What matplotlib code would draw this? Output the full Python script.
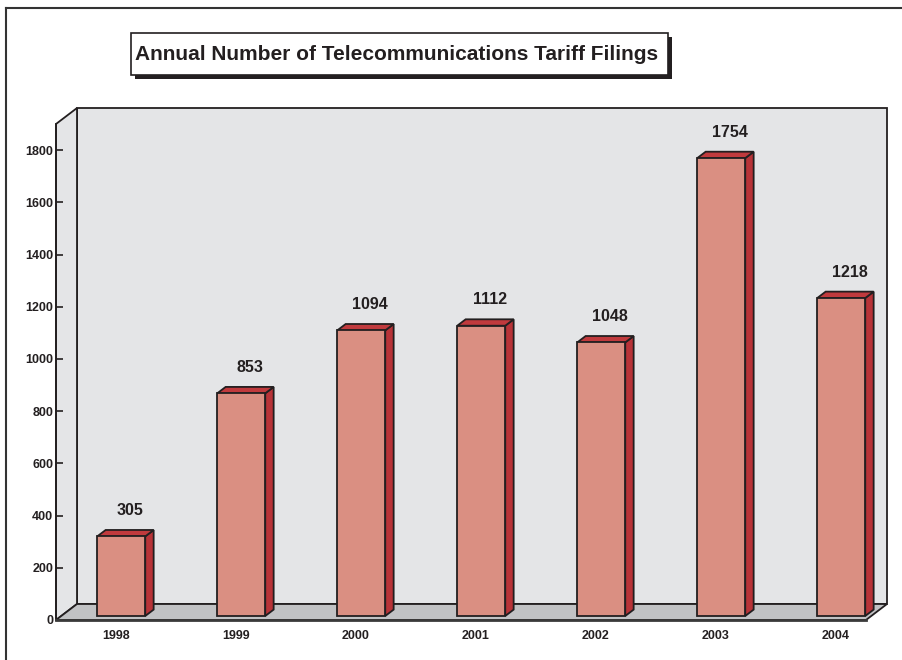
import matplotlib
matplotlib.use("Agg")
import matplotlib.pyplot as plt
from matplotlib.patches import Polygon, Rectangle
from matplotlib.lines import Line2D

# tariff filings per year
years = ['1998', '1999', '2000', '2001', '2002', '2003', '2004']
filings = [305, 853, 1094, 1112, 1048, 1754, 1218]
yticks = [0, 200, 400, 600, 800, 1000, 1200, 1400, 1600, 1800]

plt.rcParams['font.family'] = ['Liberation Sans', 'DejaVu Sans']
plt.rcParams['font.stretch'] = 'normal'

# oblique depth offset (data units for a full unit of depth)
DX = 0.175
DY = 61.3
XMIN, XMAX, YMAX = -0.5, 6.25, 1900

WALL = '#e4e5e7'
FLOOR = '#c1c2c4'
EDGE = '#231f20'
FRONT = '#da8f82'
SIDE = '#b83338'
TOP = '#c03a3d'


def P(x, y, d):
    return (x + DX * d, y + DY * d)


def face(ax, pts, color, z, lw=1.3):
    ax.add_patch(Polygon(pts, closed=True, facecolor=color, edgecolor=EDGE,
                         linewidth=lw, joinstyle='miter', zorder=z, clip_on=False))


fig = plt.figure(figsize=(9.02, 6.6), dpi=100)
fig.patch.set_facecolor('white')
ax = fig.add_axes([56 / 902, 40 / 660, 810 / 902, 496 / 660])
ax.set_xlim(XMIN, XMAX)
ax.set_ylim(0, YMAX)
ax.patch.set_visible(False)

# back wall, left wall, floor
face(ax, [P(XMIN, 0, 1), P(XMAX, 0, 1), P(XMAX, YMAX, 1), P(XMIN, YMAX, 1)], WALL, 1)
face(ax, [P(XMIN, 0, 0), P(XMIN, 0, 1), P(XMIN, YMAX, 1), P(XMIN, YMAX, 0)], WALL, 1)
face(ax, [P(XMIN, 0, 0), P(XMAX, 0, 0), P(XMAX, 0, 1), P(XMIN, 0, 1)], FLOOR, 2)

# bars
w = 0.4
d0, d1 = 0.25, 0.65
for i, v in enumerate(filings):
    xl, xr = i - w / 2, i + w / 2
    face(ax, [P(xr, 0, d0), P(xr, 0, d1), P(xr, v, d1), P(xr, v, d0)], SIDE, 3)
    face(ax, [P(xl, v, d0), P(xr, v, d0), P(xr, v, d1), P(xl, v, d1)], TOP, 3)
    face(ax, [P(xl, 0, d0), P(xr, 0, d0), P(xr, v, d0), P(xl, v, d0)], FRONT, 4)
    ax.annotate(str(v), xy=P(i, v, d1), xytext=(0, 14), textcoords='offset points',
                ha='center', va='center', fontsize=11.5, fontweight='bold',
                fontstretch='normal', color='#231f20', zorder=6)

# front edges of the box are the axes spines
for s in ['top', 'right']:
    ax.spines[s].set_visible(False)
ax.spines['left'].set_linewidth(1.3)
ax.spines['left'].set_color(EDGE)
ax.spines['bottom'].set_linewidth(2)
ax.spines['bottom'].set_color('#3a3a3a')
for s in ax.spines.values():
    s.set_zorder(5)

ax.set_yticks(yticks)
ax.set_yticklabels([str(t) for t in yticks])
ax.tick_params(axis='y', direction='in', length=5, width=1.2, pad=2,
               labelsize=9, colors=EDGE)
ax.set_xticks(range(len(years)))
ax.set_xticklabels(years)
ax.tick_params(axis='x', length=0, pad=7, labelsize=9, colors=EDGE)
for lab in ax.get_xticklabels() + ax.get_yticklabels():
    lab.set_fontweight('bold')
    lab.set_fontstretch('normal')

# outer frame
fig.add_artist(Line2D([6 / 902, 6 / 902], [0, 1 - 8 / 660], color='#333333', lw=1.5))
fig.add_artist(Line2D([6 / 902, 1], [1 - 8 / 660, 1 - 8 / 660], color='#333333', lw=1.5))

# title box with drop shadow
bx, by, bw, bh = 131 / 902, 1 - 75 / 660, 537 / 902, 42 / 660
fig.add_artist(Rectangle((bx + 4 / 902, by - 4 / 660), bw, bh, transform=fig.transFigure,
                         facecolor='#231f20', edgecolor='none', zorder=1))
fig.add_artist(Rectangle((bx, by), bw, bh, transform=fig.transFigure,
                         facecolor='white', edgecolor='#231f20', lw=1.2, zorder=2))
fig.text(bx + bw / 2 - 3 / 902, by + bh / 2, 'Annual Number of Telecommunications Tariff Filings',
         ha='center', va='center', fontsize=15, fontweight='bold', fontstretch='condensed',
         family=['Liberation Sans Narrow', 'Liberation Sans', 'DejaVu Sans'],
         color='#231f20', zorder=3)

fig.savefig('out.png', dpi=100)
